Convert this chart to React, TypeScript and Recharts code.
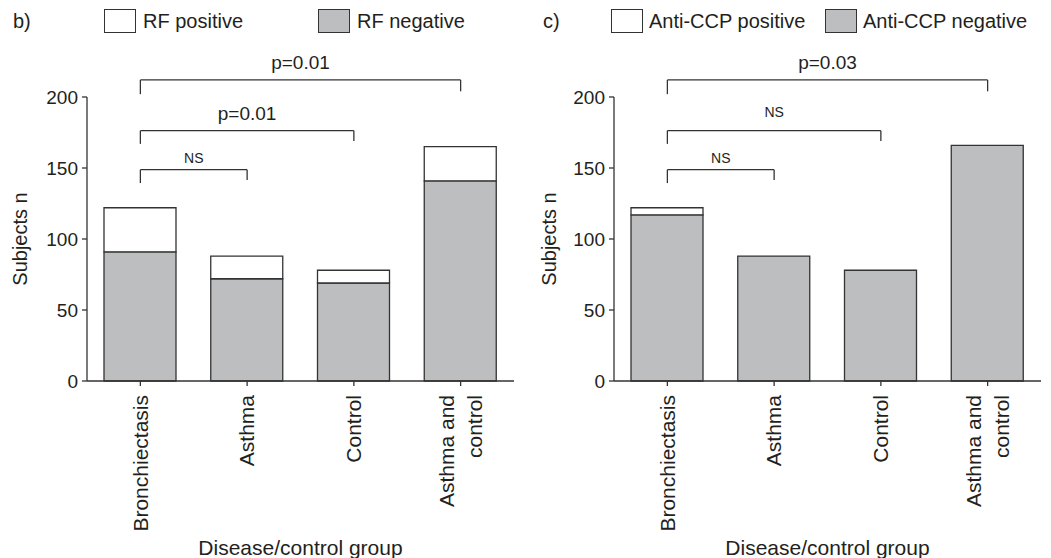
import React from 'react';
import { BarChart, Bar, XAxis, YAxis, ReferenceLine, Legend, Label } from 'recharts';

const categories = ['Bronchiectasis', 'Asthma', 'Control', 'Asthma and control'];
const categoryTickLines = [['Bronchiectasis'], ['Asthma'], ['Control'], ['Asthma and', 'control']];
const rfPositive = [31, 16, 9, 24];
const rfNegative = [91, 72, 69, 141];
const ccpPositive = [5, 0, 0, 0];
const ccpNegative = [117, 88, 78, 166];
const yTicks = [0, 50, 100, 150, 200];

const rfLegend = ['RF positive', 'RF negative'];
const ccpLegend = ['Anti-CCP positive', 'Anti-CCP negative'];

const rfBrackets = [
  { from: 'Bronchiectasis', to: 'Asthma and control', level: 212, leftEnd: 202, rightEnd: 204, text: 'p=0.01', small: false, gap: 11 },
  { from: 'Bronchiectasis', to: 'Control', level: 176.3, leftEnd: 167, rightEnd: 169, text: 'p=0.01', small: false, gap: 11 },
  { from: 'Bronchiectasis', to: 'Asthma', level: 148.8, leftEnd: 139.4, rightEnd: 141.5, text: 'NS', small: true, gap: 7 },
];
const ccpBrackets = [
  { from: 'Bronchiectasis', to: 'Asthma and control', level: 212, leftEnd: 202, rightEnd: 204, text: 'p=0.03', small: false, gap: 11 },
  { from: 'Bronchiectasis', to: 'Control', level: 176.3, leftEnd: 167, rightEnd: 169, text: 'NS', small: true, gap: 14 },
  { from: 'Bronchiectasis', to: 'Asthma', level: 148.8, leftEnd: 139.4, rightEnd: 141.5, text: 'NS', small: true, gap: 7 },
];

const FONT = '"Liberation Sans", Arial, sans-serif';
const TEXT = '#231f20';
const LINE = '#333333';
const GREY = '#bdbec0';

function makeData(pos: number[], neg: number[]) {
  return categories.map((c, i) => ({ name: c, idx: i, pos: pos[i], neg: neg[i] }));
}

const CategoryTick = (props: any) => {
  const { x, y, payload, index } = props;
  const i = typeof index === 'number' ? index : categories.indexOf(payload.value);
  const lines = categoryTickLines[i] || [String(payload.value)];
  const first = lines.length === 1 ? 0.35 : -0.33;
  return (
    <g transform={`translate(${x},${y})`}>
      <text transform="rotate(-90)" textAnchor="end" fontSize={21} fill={TEXT} fontFamily={FONT}>
        {lines.map((l: string, k: number) => (
          <tspan key={k} x={-7} dy={k === 0 ? `${first}em` : '1.37em'}>{l}</tspan>
        ))}
      </text>
    </g>
  );
};

type PanelProps = {
  left: number;
  width: number;
  yAxisWidth: number;
  rightMargin: number;
  panelLabel: string;
  panelLabelX: number;
  legend: string[];
  legendPos: number[];
  pos: number[];
  neg: number[];
  brackets: typeof rfBrackets;
  yLabelX: number;
};

function Panel(p: PanelProps) {
  const data = makeData(p.pos, p.neg);
  const legendContent = () => (
    <div style={{ position: 'relative', width: p.width, height: 40, fontFamily: FONT }}>
      {p.legend.map((name, i) => (
        <React.Fragment key={name}>
          <div style={{ position: 'absolute', left: p.legendPos[i * 2], top: 9, width: 32, height: 24, boxSizing: 'border-box', border: `1.3px solid ${LINE}`, background: i === 0 ? '#fff' : GREY }} />
          <div style={{ position: 'absolute', left: p.legendPos[i * 2 + 1], top: 9, height: 24, lineHeight: '24px', fontSize: 20, color: TEXT, whiteSpace: 'nowrap' }}>{name}</div>
        </React.Fragment>
      ))}
    </div>
  );
  return (
    <div style={{ position: 'absolute', left: p.left, top: 0, width: p.width, height: 558 }}>
      <BarChart width={p.width} height={558} data={data} margin={{ top: 97, right: p.rightMargin, bottom: 0, left: 0 }} barSize={72}>
        <XAxis
          dataKey="name"
          height={177}
          interval={0}
          tick={<CategoryTick />}
          tickSize={5}
          axisLine={{ stroke: LINE, strokeWidth: 1.3 }}
          tickLine={{ stroke: LINE, strokeWidth: 1.3 }}
        >
          <Label
            content={(lp: any) => {
              const vb = lp.viewBox || {};
              const cx = (vb.x ?? 0) + (vb.width ?? 0) / 2;
              const cy = (vb.y ?? 381) + 166;
              return (
                <text x={cx} y={cy} textAnchor="middle" dominantBaseline="central" fontSize={21} fill={TEXT} fontFamily={FONT}>
                  Disease/control group
                </text>
              );
            }}
          />
        </XAxis>
        <YAxis
          width={p.yAxisWidth}
          domain={[0, 200]}
          ticks={yTicks}
          tickSize={5}
          tickMargin={4}
          tick={{ fontSize: 19, fill: TEXT, fontFamily: FONT }}
          axisLine={{ stroke: LINE, strokeWidth: 1.3 }}
          tickLine={{ stroke: LINE, strokeWidth: 1.3 }}
        >
          <Label
            content={(lp: any) => {
              const vb = lp.viewBox || {};
              const cy = (vb.y ?? 97) + (vb.height ?? 284) / 2;
              const cx = p.yLabelX;
              return (
                <text x={cx} y={cy} transform={`rotate(-90, ${cx}, ${cy})`} textAnchor="middle" dominantBaseline="central" fontSize={20} fill={TEXT} fontFamily={FONT}>
                  Subjects n
                </text>
              );
            }}
          />
        </YAxis>
        <Legend verticalAlign="middle" align="center" layout="horizontal" content={legendContent} wrapperStyle={{ top: 0, left: 0, width: p.width, height: 40 }} />
        <Bar dataKey="neg" stackId="a" fill={GREY} stroke={LINE} strokeWidth={1.3} isAnimationActive={false} />
        <Bar dataKey="pos" stackId="a" fill="#ffffff" stroke={LINE} strokeWidth={1.3} isAnimationActive={false} />
        {p.brackets.map((b, i) => (
          <ReferenceLine
            key={`h${i}`}
            ifOverflow="visible"
            segment={[{ x: b.from, y: b.level }, { x: b.to, y: b.level }]}
            stroke={LINE}
            strokeWidth={1.3}
            label={{ value: b.text, position: 'top', offset: b.gap, fontSize: b.small ? 14 : 19, fill: TEXT, fontFamily: FONT }}
          />
        ))}
        {p.brackets.map((b, i) => (
          <ReferenceLine key={`l${i}`} ifOverflow="visible" segment={[{ x: b.from, y: b.level }, { x: b.from, y: b.leftEnd }]} stroke={LINE} strokeWidth={1.3} />
        ))}
        {p.brackets.map((b, i) => (
          <ReferenceLine key={`r${i}`} ifOverflow="visible" segment={[{ x: b.to, y: b.level }, { x: b.to, y: b.rightEnd }]} stroke={LINE} strokeWidth={1.3} />
        ))}
      </BarChart>
      <div style={{ position: 'absolute', left: p.panelLabelX, top: 9, height: 24, lineHeight: '24px', fontSize: 20, color: TEXT, fontFamily: FONT }}>{p.panelLabel}</div>
    </div>
  );
}

export default function App() {
  return (
    <div style={{ position: 'absolute', left: 0, top: 0, width: 1051, height: 558, background: '#fff', fontFamily: FONT }}>
      <Panel left={0} width={525} yAxisWidth={87} rightMargin={11} panelLabel="b)" panelLabelX={13} legend={rfLegend} legendPos={[104, 143, 318, 357]} pos={rfPositive} neg={rfNegative} brackets={rfBrackets} yLabelX={20} />
      <Panel left={525} width={526} yAxisWidth={89} rightMargin={10} panelLabel="c)" panelLabelX={18} legend={ccpLegend} legendPos={[86, 124, 300, 338]} pos={ccpPositive} neg={ccpNegative} brackets={ccpBrackets} yLabelX={24} />
    </div>
  );
}
